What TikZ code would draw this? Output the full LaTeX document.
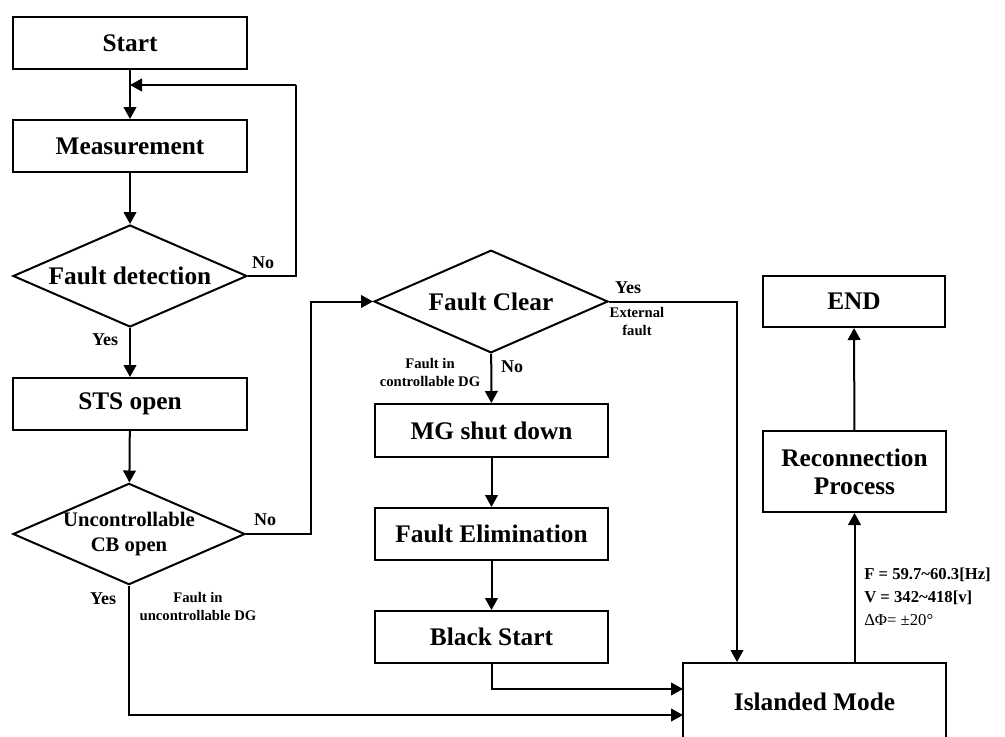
\documentclass[tikz,border=0pt]{standalone}
\usepackage{fontspec}
\setmainfont{Liberation Serif}
\usetikzlibrary{shapes.geometric,arrows.meta,calc}
\begin{document}
\begin{tikzpicture}[x=0.75pt,y=-0.75pt,
  box/.style={draw,line width=1.5pt,rectangle,inner sep=0pt,minimum width=175.5pt,minimum height=39pt,font=\fontsize{19}{22}\selectfont\bfseries},
  dia/.style={draw,line width=1.5pt,diamond,inner sep=0pt,minimum width=175.5pt,minimum height=76.5pt,font=\fontsize{19}{22}\selectfont\bfseries},
  arr/.style={line width=1.5pt,-{Triangle[length=9pt,width=9.5pt]}},
  ln/.style={line width=1.5pt},
  lab/.style={inner sep=0pt,font=\fontsize{13.5}{16}\selectfont\bfseries},
  sml/.style={inner sep=0pt,align=center,font=\fontsize{11}{13.5}\selectfont\bfseries}]
\useasboundingbox (0,0) rectangle (1005,736);
% left column
\node[box] (start) at (130,43) {Start};
\node[box] (meas) at (130,146) {Measurement};
\node[dia] (fd) at (130,276) {\makebox[0pt]{Fault detection}};
\node[box] (sts) at (130,404) {STS open};
\node[dia,minimum width=174pt,minimum height=76pt,font=\fontsize{15.5}{19}\selectfont\bfseries] (cb) at (129,534) {\makebox[0pt]{\begin{tabular}{@{}c@{}}Uncontrollable\\[0pt]CB open\end{tabular}}};
% middle column
\node[dia,minimum height=77pt] (fc) at (491,301.5) {\makebox[0pt]{Fault Clear}};
\node[box,minimum width=174.75pt,minimum height=39.75pt] (mg) at (491.5,430.5) {MG shut down};
\node[box,minimum width=174.75pt] (fe) at (491.5,534) {Fault Elimination};
\node[box,minimum width=174.75pt] (bs) at (491.5,637) {Black Start};
% right column
\node[box,minimum width=197.25pt,minimum height=58.5pt] (isl) at (814.5,702) {Islanded Mode};
\node[box,minimum width=137.25pt,minimum height=60.75pt,align=center] (rec) at (854.5,471.5) {Reconnection\\[-1pt]Process};
\node[box,minimum width=137pt,minimum height=38.25pt] (endn) at (854,301.5) {END};
% helper coordinates
\coordinate (lp) at (296,85);
\coordinate (lpin) at (130,85);
\coordinate (cx) at (311,420);
\coordinate (fcy) at (737,301.5);
\coordinate (b1) at (683,689);
\coordinate (b2) at (683,715);
% connectors
\draw[arr] (start) -- (meas);
\draw[ln] (fd.east) -| (lp);
\draw[arr] (lp) -- (lpin);
\draw[arr] (meas) -- (fd);
\draw[arr] (fd) -- (sts);
\draw[arr] (sts) -- (cb);
\draw[arr] (cb.east) -- (cb.east -| cx) |- (fc.west);
\draw[arr] (fc.east) -- (fcy) -- (fcy |- isl.north);
\draw[arr] (fc) -- (mg);
\draw[arr] (mg) -- (fe);
\draw[arr] (fe) -- (bs);
\draw[arr] (bs.south) |- (b1);
\draw[arr] (cb.south) |- (b2);
\draw[arr] (isl.north -| rec.south) -- (rec.south);
\draw[arr] (rec) -- (endn);
% labels
\node[lab] (no1) at (263,263) {No};
\node[lab] (yes1) at (105,340) {Yes};
\node[lab] (no2) at (265,520) {No};
\node[lab] (yes2) at (103,599) {Yes};
\node[sml] (fu) at (198,606) {Fault in\\uncontrollable DG};
\node[lab] (yes3) at (628,288) {Yes};
\node[sml] (ext) at (637,321) {External\\fault};
\node[lab] (no3) at (512,367) {No};
\node[sml] (fcd) at (430,372) {Fault in\\controllable DG};
\node[inner sep=0pt,anchor=north west,align=left,font=\fontsize{12.5}{17}\selectfont\bfseries] (form) at (864,568)
  {F = 59.7\textasciitilde60.3[Hz]\\V = 342\textasciitilde418[v]\\{\mdseries ΔΦ= ±20°}};
\end{tikzpicture}
\end{document}
